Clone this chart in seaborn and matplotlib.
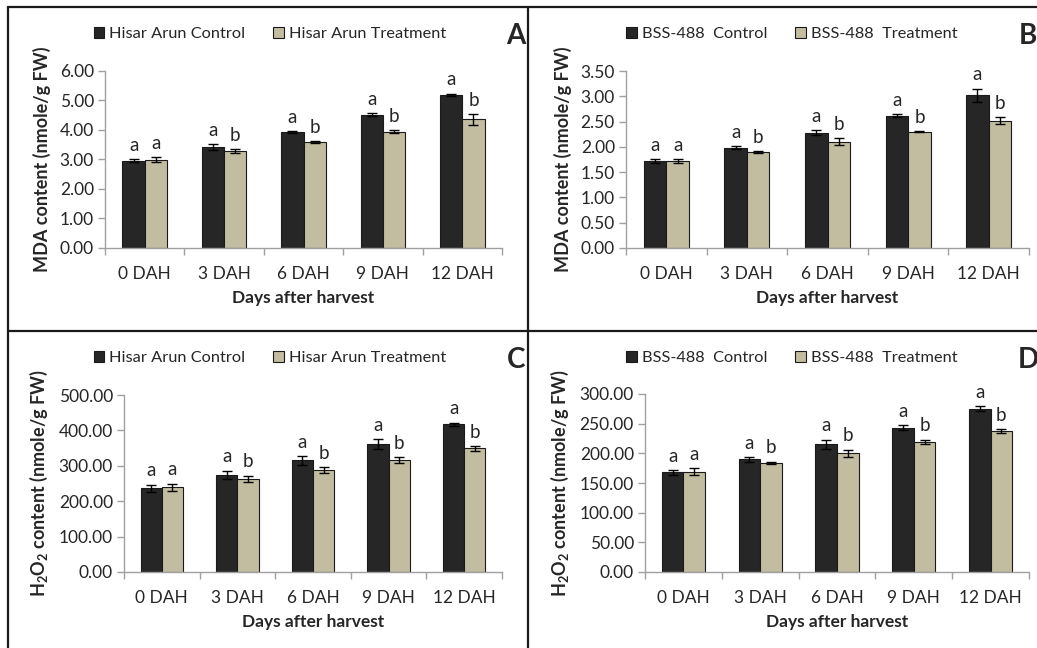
import numpy as np
import pandas as pd
import seaborn as sns
import matplotlib.pyplot as plt
from matplotlib.lines import Line2D

days = ['0 DAH', '3 DAH', '6 DAH', '9 DAH', '12 DAH']

# Panel A - MDA, Hisar Arun
mda_ha_ctrl = [2.95, 3.40, 3.92, 4.50, 5.18]
mda_ha_ctrl_err = [0.05, 0.10, 0.02, 0.05, 0.04]
mda_ha_trt = [2.98, 3.27, 3.58, 3.93, 4.35]
mda_ha_trt_err = [0.09, 0.06, 0.04, 0.05, 0.18]

# Panel B - MDA, BSS-488
mda_bss_ctrl = [1.72, 1.98, 2.28, 2.62, 3.02]
mda_bss_ctrl_err = [0.04, 0.03, 0.05, 0.03, 0.13]
mda_bss_trt = [1.72, 1.90, 2.10, 2.30, 2.52]
mda_bss_trt_err = [0.03, 0.02, 0.07, 0.01, 0.07]

# Panel C - H2O2, Hisar Arun
h2o2_ha_ctrl = [237, 274, 315, 362, 417]
h2o2_ha_ctrl_err = [10, 12, 12, 14, 5]
h2o2_ha_trt = [240, 263, 288, 317, 349]
h2o2_ha_trt_err = [10, 9, 9, 8, 6]

# Panel D - H2O2, BSS-488
h2o2_bss_ctrl = [168, 190, 215, 243, 275]
h2o2_bss_ctrl_err = [4, 4, 8, 4, 4]
h2o2_bss_trt = [169, 184, 200, 219, 238]
h2o2_bss_trt_err = [6, 2, 6, 4, 3]

letters_ctrl = ['a', 'a', 'a', 'a', 'a']
letters_trt = ['a', 'b', 'b', 'b', 'b']

sns.set_theme(style='white')
plt.rcParams['font.family'] = ['Lato', 'DejaVu Sans']
plt.rcParams['mathtext.default'] = 'regular'

dark = '#262626'
tan = '#c8c09b'
W, H = 1037, 648

fig = plt.figure(figsize=(W / 100, H / 100), dpi=100)


def px_axes(x0, x1, ytop, ybot):
    return fig.add_axes([x0 / W, 1 - ybot / H, (x1 - x0) / W, (ybot - ytop) / H])


def panel(ax, ctrl, ctrl_err, trt, trt_err, names, ymax, step, ylabel, letter, leg_x, leg_y, let_x, let_y):
    df = pd.DataFrame({
        'day': days * 2,
        'value': ctrl + trt,
        'group': [names[0]] * 5 + [names[1]] * 5,
    })
    sns.barplot(data=df, x='day', y='value', hue='group', order=days,
                palette=[dark, tan], width=0.56, errorbar=None,
                edgecolor='#1a1a1a', linewidth=0.8, ax=ax, legend=True)
    errs = [ctrl_err, trt_err]
    vals = [ctrl, trt]
    labs = [letters_ctrl, letters_trt]
    bar_conts = list(ax.containers)
    for k, cont in enumerate(bar_conts):
        xs = [p.get_x() + p.get_width() / 2 for p in cont.patches]
        ax.errorbar(xs, vals[k], yerr=errs[k], fmt='none', ecolor='black',
                    elinewidth=1, capsize=3.5, capthick=1)
        for x, v, e, t in zip(xs, vals[k], errs[k], labs[k]):
            ax.text(x, v + e + ymax * 0.03, t, ha='center', va='bottom', fontsize=13.5)
    ax.set_ylim(0, ymax)
    ax.set_xlim(-0.5, 4.5)
    ticks = np.arange(0, ymax + step / 2, step)
    ax.set_yticks(ticks)
    ax.set_yticklabels([f'{t:.2f}' for t in ticks], fontsize=12.5)
    ax.set_xticks(range(5))
    ax.set_xticklabels(days, fontsize=12.5)
    ax.set_xticks(np.arange(-0.5, 5, 1), minor=True)
    ax.tick_params(axis='x', which='major', length=0, pad=13)
    ax.tick_params(axis='x', which='minor', length=5, width=1, color='#a0a0a0', bottom=True)
    ax.tick_params(axis='y', length=5, width=1, color='#a0a0a0', left=True, pad=3)
    for s in ['top', 'right']:
        ax.spines[s].set_visible(False)
    for s in ['left', 'bottom']:
        ax.spines[s].set_color('#a0a0a0')
        ax.spines[s].set_linewidth(1)
    ax.set_xlabel('Days after harvest', fontsize=12.5, fontweight='bold', labelpad=6)
    ax.set_ylabel(ylabel, fontsize=13, fontweight='bold', labelpad=6)
    handles, lbls = ax.get_legend_handles_labels()
    ax.legend(handles, lbls, loc='center', bbox_to_anchor=(leg_x / W, 1 - leg_y / H),
              bbox_transform=fig.transFigure, ncol=2, frameon=False, fontsize=11.8,
              handlelength=0.65, handleheight=0.65, handletextpad=0.3, columnspacing=1.7)
    fig.text(let_x / W, 1 - let_y / H, letter, fontsize=20, fontweight='bold',
             ha='center', va='center')


axA = px_axes(105, 502, 70.7, 247.7)
panel(axA, mda_ha_ctrl, mda_ha_ctrl_err, mda_ha_trt, mda_ha_trt_err,
      ['Hisar Arun Control', 'Hisar Arun Treatment'], 6.0, 1.0,
      'MDA content (nmole/g FW)', 'A', 270, 34, 516, 36)

axB = px_axes(626, 1029, 71, 248)
panel(axB, mda_bss_ctrl, mda_bss_ctrl_err, mda_bss_trt, mda_bss_trt_err,
      ['BSS-488  Control', 'BSS-488  Treatment'], 3.5, 0.5,
      'MDA content (nmole/g FW)', 'B', 792, 34, 1028, 36)

axC = px_axes(124, 502, 395, 572)
panel(axC, h2o2_ha_ctrl, h2o2_ha_ctrl_err, h2o2_ha_trt, h2o2_ha_trt_err,
      ['Hisar Arun Control', 'Hisar Arun Treatment'], 500, 100,
      r'H$_2$O$_2$ content (nmole/g FW)', 'C', 270, 358, 516, 360)

axD = px_axes(645, 1029, 394, 572)
panel(axD, h2o2_bss_ctrl, h2o2_bss_ctrl_err, h2o2_bss_trt, h2o2_bss_trt_err,
      ['BSS-488  Control', 'BSS-488  Treatment'], 300, 50,
      r'H$_2$O$_2$ content (nmole/g FW)', 'D', 792, 358, 1028, 360)

# panel borders
for xs, ys in [((8, 8), (7, 648)), ((8, 1037), (7, 7)),
               ((527.7, 527.7), (7, 648)), ((8, 1037), (331, 331))]:
    fig.add_artist(Line2D([x / W for x in xs], [1 - y / H for y in ys],
                          color='#1a1a1a', linewidth=1.6, transform=fig.transFigure))

fig.savefig('out.png', dpi=100)
